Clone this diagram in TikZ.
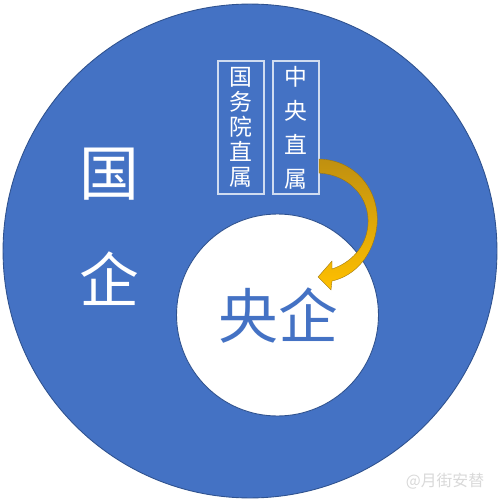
\documentclass[tikz,border=0pt]{standalone}
\usepackage{fontspec}
\newfontfamily\cjk{Noto Sans CJK SC}
\definecolor{oblue}{HTML}{4472C4}
\definecolor{oline}{HTML}{2F528F}
\definecolor{golddark}{HTML}{C09010}
\definecolor{goldlight}{HTML}{FFC000}
\tikzset{
  bigtxt/.style={font=\cjk\fontsize{34}{34}\selectfont, inner sep=0pt},
  vbox/.style={draw=white!75!oblue, line width=0.7pt, minimum width=0.92cm, minimum height=2.66cm, inner sep=0pt, align=center, text=white},
}
\begin{document}
\begin{tikzpicture}[x=0.02cm,y=-0.02cm]
\useasboundingbox (0,0) rectangle (500,500);
\fill[white] (0,0) rectangle (500,500);
\node[circle, fill=oblue, draw=oline, line width=0.5pt, minimum size=9.88cm, inner sep=0pt] (outer) at (250,251) {};
\node[circle, fill=white, draw=oline, line width=0.5pt, minimum size=4.04cm, inner sep=0pt] (inner) at (277.5,315) {};
\node[bigtxt, text=white] (guo) at (109,174) {国};
\node[bigtxt, text=white] (qi) at (109,279) {企};
\node[bigtxt, text=oblue] (yangqi) at (278,316) {央企};
\node[vbox, font=\cjk\fontsize{13}{14.2}\selectfont] (b1) at (241,127.5) {国\\务\\院\\直\\属};
\node[vbox, font=\cjk\fontsize{13}{19.4}\selectfont] (b2) at (296,127.5) {中\\央\\直\\属};
\shade[top color=golddark, bottom color=goldlight, draw=golddark!80!black, line width=0.2pt]
  (319,159) .. controls (357,160) and (380,192) .. (377,225)
  .. controls (374,255) and (355,276) .. (332,281)
  -- (331,290) -- (318,277) -- (332,261) -- (332,269)
  .. controls (350,263) and (366,248) .. (368,225)
  .. controls (370,198) and (350,175) .. (319,173) -- cycle;
\node[text=gray!30, font=\cjk\fontsize{9}{9}\selectfont, inner sep=0pt] (wm) at (445,481) {@月街安替};
\end{tikzpicture}
\end{document}
